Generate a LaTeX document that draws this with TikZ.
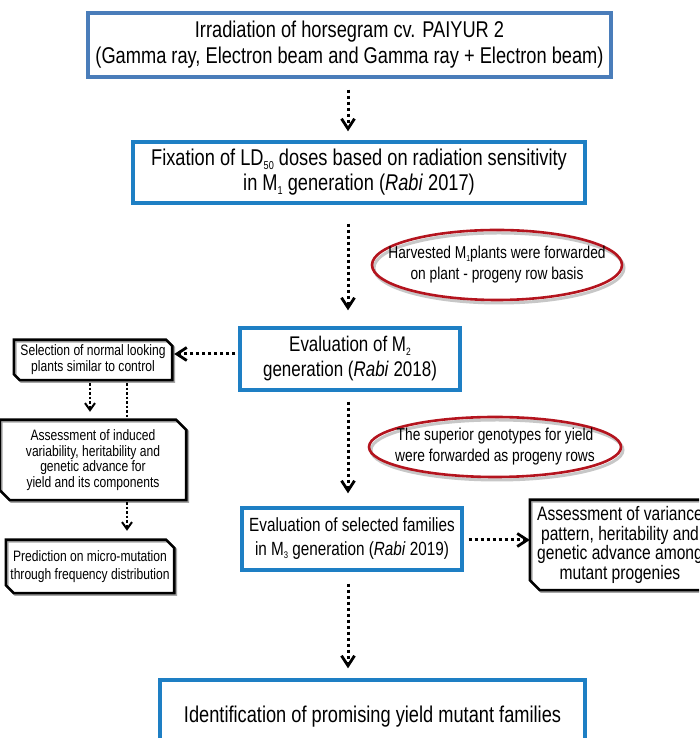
\documentclass[tikz,border=0pt]{standalone}
\usepackage{fontspec}
\setmainfont[FakeStretch=0.8]{Liberation Sans}
\usetikzlibrary{arrows.meta,shapes.geometric}
\definecolor{bluea}{RGB}{74,125,186}
\definecolor{blueb}{RGB}{30,127,196}
\definecolor{redell}{RGB}{180,20,30}
\newcommand{\sub}[1]{\raisebox{-0.3ex}{\scalebox{0.5}{#1}}}
\tikzset{
  box1/.style={draw=bluea,line width=3.2pt,minimum width=#1,inner sep=0pt,align=center,font=\fontsize{22.8}{26}\selectfont},
  bbox/.style={draw=blueb,line width=3.4pt,inner sep=0pt,align=center},
  ell/.style={ellipse,draw=redell,line width=2.6pt,inner sep=0pt},
  elltext/.style={inner sep=0pt,align=center,font=\fontsize{17.2}{21}\selectfont},
  ellshadow/.style={draw=black!22,line width=3pt},
  sbox/.style={inner sep=0pt,align=center},
  snipline/.style={draw=black,line width=2.6pt,line join=miter},
  snipshadow/.style={draw=black!35,line width=2.6pt},
  arr/.style={line width=3pt,dash pattern=on 3.5pt off 2.5pt,-{Straight Barb[length=10pt,width=13pt,line width=2.8pt]}},
  sarr/.style={line width=2pt,dash pattern=on 2.5pt off 2pt,-{Straight Barb[length=7pt,width=10pt,line width=2pt]}},
  sline/.style={line width=2pt,dash pattern=on 2.5pt off 2pt}
}
\newcommand{\snipdraw}[3]{%
  \draw[#3] (#1.north west) -- ([xshift=-#2]#1.north east) -- ([yshift=-#2]#1.north east) -- (#1.south east) -- ([xshift=#2]#1.south west) -- ([yshift=#2]#1.south west) -- cycle;}
\begin{document}
\begin{tikzpicture}[x=1pt,y=1pt]
\useasboundingbox (0,0) rectangle (699,738);
\fill[white] (0,0) rectangle (699,738);
\clip (0,0) rectangle (699,738);

% main boxes
\node[box1=523pt,minimum height=64pt] (b1) at (349.5,693)
  {Irradiation of horsegram cv. PAIYUR 2\\(Gamma ray, Electron beam and Gamma ray + Electron beam)};
\node[bbox,minimum width=452pt,minimum height=61pt,font=\fontsize{22.8}{25}\selectfont] (b2) at (359,565.5)
  {Fixation of LD\sub{50} doses based on radiation sensitivity\\in M\sub{1} generation (\textit{Rabi} 2017)};
\node[bbox,minimum width=220pt,minimum height=62pt,font=\fontsize{21.2}{25}\selectfont] (b3) at (350,379)
  {Evaluation of M\sub{2}\\generation (\textit{Rabi} 2018)};
\node[bbox,minimum width=220pt,minimum height=62pt,font=\fontsize{19.1}{24}\selectfont] (b4) at (352,199)
  {Evaluation of selected families\\in M\sub{3} generation (\textit{Rabi} 2019)};
\node[bbox,minimum width=425pt,minimum height=74pt,font=\fontsize{22.8}{25}\selectfont] (b5) at (372.5,21)
  {Identification of promising yield mutant families};

% ellipses
\draw[ellshadow] (499,470) ellipse (125pt and 35pt);
\node[ell,minimum width=250pt,minimum height=70pt] (e1) at (497,473) {};
\node[elltext] (e1t) at (e1.center)
  {Harvested M\sub{1}plants were forwarded\\on plant - progeny row basis};
\draw[ellshadow] (497,288) ellipse (126pt and 30pt);
\node[ell,minimum width=252pt,minimum height=60pt] (e2) at (495,291) {};
\node[elltext] (e2t) at (e2.center)
  {The superior genotypes for yield\\were forwarded as progeny rows};

% black snipped boxes
\node[sbox,minimum width=158pt,minimum height=40pt,font=\fontsize{15.1}{16}\selectfont] (sel) at (93,378)
  {Selection of normal looking\\plants similar to control};
\node[sbox,minimum width=186pt,minimum height=80pt,font=\fontsize{15.1}{15.5}\selectfont] (ass) at (93,278)
  {Assessment of induced\\variability, heritability and\\genetic advance for\\yield and its components};
\node[sbox,minimum width=168pt,minimum height=53pt,font=\fontsize{15.1}{18}\selectfont] (pred) at (90,171.5)
  {Prediction on micro-mutation\\through frequency distribution};
\node[sbox,minimum width=180pt,minimum height=90pt,font=\fontsize{19.5}{19.5}\selectfont] (rb) at (620,193)
  {Assessment of variance\\pattern, heritability and\\genetic advance among\\mutant progenies};
\begin{scope}[transform canvas={xshift=1.5pt,yshift=-1.5pt}]
\snipdraw{sel}{6pt}{snipshadow}
\snipdraw{ass}{10pt}{snipshadow}
\snipdraw{pred}{8pt}{snipshadow}
\snipdraw{rb}{10pt}{snipshadow}
\end{scope}
\snipdraw{sel}{6pt}{snipline}
\snipdraw{ass}{10pt}{snipline}
\snipdraw{pred}{8pt}{snipline}
\snipdraw{rb}{10pt}{snipline}

% connectors
\draw[arr] ([xshift=-1.5pt,yshift=-11pt]b1.south) -- ([xshift=-11pt,yshift=9pt]b2.north);
\draw[arr] ([xshift=-11pt,yshift=-19pt]b2.south) -- ([xshift=-2pt,yshift=16pt]b3.north);
\draw[arr] ([xshift=-2pt,yshift=-10pt]b3.south) -- ([xshift=-4pt,yshift=13pt]b4.north);
\draw[arr] ([xshift=-4pt,yshift=-12pt]b4.south) -- ([xshift=-24.5pt,yshift=10pt]b5.north);
\draw[arr] ([xshift=-3pt,yshift=5pt]b3.west) -- ([xshift=2pt,yshift=6pt]sel.east);
\draw[arr] ([xshift=5pt,yshift=-1pt]b4.east) -- ([xshift=0pt,yshift=5pt]rb.west);
\draw[sarr] ([xshift=-3pt,yshift=-3pt]sel.south) -- ([xshift=-3pt,yshift=8pt]ass.north);
\draw[sline] ([xshift=34pt,yshift=-3pt]sel.south) -- ([xshift=34pt]ass.north);
\draw[sarr] ([xshift=34pt,yshift=-2pt]ass.south) -- ([xshift=37pt,yshift=9pt]pred.north);
\end{tikzpicture}
\end{document}
